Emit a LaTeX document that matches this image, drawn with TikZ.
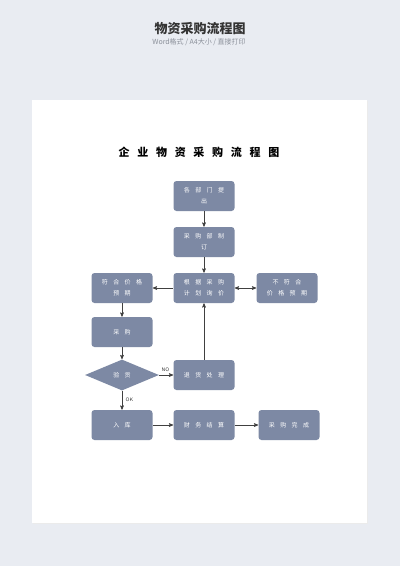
\documentclass[tikz,border=0pt]{standalone}
\usepackage{fontspec}
\usetikzlibrary{arrows,positioning,shapes,calc}
\newfontfamily\cjk{Noto Sans CJK SC}
\newfontfamily\cjkbox[LetterSpace=90]{Noto Sans CJK SC}
\newfontfamily\cjktitle[LetterSpace=70]{Noto Sans CJK SC}
\definecolor{bgcol}{HTML}{E9ECF2}
\definecolor{boxcol}{HTML}{7D89A4}
\definecolor{titlecol}{HTML}{333333}
\definecolor{subcol}{HTML}{8A8F99}

\begin{document}
\begin{tikzpicture}[x=1pt,y=-1pt,>=stealth',semithick,
  main node/.style={rectangle,rounded corners=3pt,fill=boxcol,minimum width=61pt,minimum height=30pt,inner sep=0pt,align=center,text=white,font=\cjkbox\fontsize{6}{11}\selectfont},
  check node/.style={diamond,fill=boxcol,minimum width=74pt,minimum height=31pt,inner sep=0pt,aspect=2.4,text=white,font=\cjkbox\fontsize{6}{11}\selectfont},
  tag/.style={font=\sffamily\fontsize{5}{6}\selectfont,text=black!80}]
% background and page
\fill[bgcol] (0,0) rectangle (400,566);
\fill[black!8] (33,101) rectangle (368,524);
\fill[white] (32,100) rectangle (367,523);
\useasboundingbox (0,0) rectangle (400,566);
% headings
\node[font=\cjk\bfseries\fontsize{13}{15}\selectfont,text=titlecol] (head) at (200,29) {物资采购流程图};
\node[font=\cjk\fontsize{7}{8}\selectfont,text=subcol] (subhead) at (199,42) {Word格式 / A4大小 / 直接打印};
\node[font=\cjktitle\bfseries\fontsize{11}{13}\selectfont] (title) at (199,152) {企业物资采购流程图};
% steps
\begin{scope}
\node[main node] (n1) at (204,196) {各部门提\\出};
\node[main node] (n2) at (204,242) {采购部制\\订};
\node[main node] (n3) at (204,288) {根据采购\\计划询价};
\node[main node] (n4) at (122,288) {符合价格\\预期};
\node[main node] (n5) at (287,288) {不符合\\价格预期};
\node[main node] (n6) at (122,332) {采购};
\node[check node] (n7) at (122,375) {验货};
\node[main node] (n8) at (204,375) {退货处理};
\node[main node] (n9) at (122,425) {入库};
\node[main node] (n10) at (204,425) {财务结算};
\node[main node] (n11) at (289,425) {采购完成};
\end{scope}
% arrows
\begin{scope}[black!75]
\draw[->] (n1) -- (n2);
\draw[->] (n2) -- (n3);
\draw[->] (n3) -- (n4);
\draw[<->] (n3) -- (n5);
\draw[->] (n4) -- (n6);
\draw[->] (n6) -- (n7);
\draw[->] (n7) -- node[tag,above,pos=0.45]{NO} (n8);
\draw[->] (n8) -- (n3);
\draw[->] (n7) -- node[tag,right,pos=0.45]{OK} (n9);
\draw[->] (n9) -- (n10);
\draw[->] (n10) -- (n11);
\end{scope}
\end{tikzpicture}
\end{document}
